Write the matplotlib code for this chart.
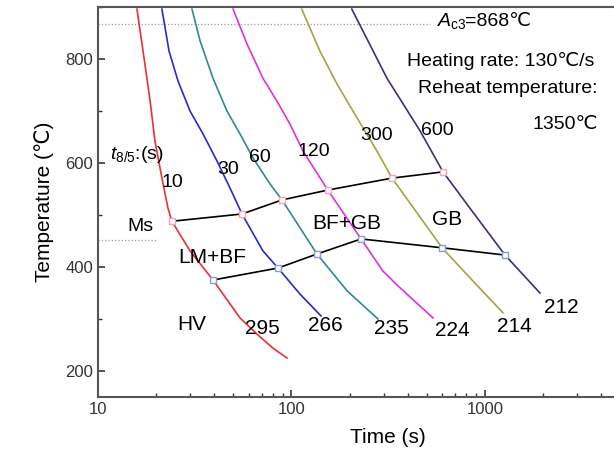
import matplotlib
matplotlib.use('Agg')
import matplotlib.pyplot as plt
from matplotlib.ticker import LogLocator, MultipleLocator, FixedLocator

plt.rcParams['font.family'] = ['Liberation Sans', 'DejaVu Sans']
plt.rcParams['mathtext.fontset'] = 'custom'
plt.rcParams['mathtext.rm'] = 'Liberation Sans'
plt.rcParams['mathtext.it'] = 'Liberation Sans:italic'

# cooling curves: time (s) vs temperature (C), labelled by t8/5
red_t = [15.9, 17.1, 18.6, 19.7, 21.4, 23.0, 24.1, 29.9, 39.3, 54.2, 66.3, 80.2, 94.8]
red_T = [896, 815, 719, 642, 571, 513, 488, 431, 375, 302, 271, 244, 225]
blue_t = [21.4, 23.3, 25.9, 29.9, 34.9, 41.2, 48.1, 55.5, 71.2, 85.2, 110.6, 142]
blue_T = [896, 815, 758, 700, 656, 604, 552, 502, 431, 398, 348, 306]
teal_t = [30.6, 33.7, 39.3, 46.4, 54.2, 63.2, 77.4, 89.3, 135.4, 194, 280]
teal_T = [896, 835, 763, 700, 656, 610, 560, 529, 425, 354, 300]
mag_t = [49.9, 58.9, 71.2, 84.1, 98.2, 114.7, 154, 229, 297, 364, 539]
mag_T = [896, 829, 763, 719, 675, 623, 548, 454, 392, 360, 302]
olive_t = [113, 140.4, 171.9, 218, 276.6, 331, 600, 867, 1239]
olive_T = [896, 815, 752, 687, 623, 571, 437, 373, 312]
navy_t = [205, 311.6, 461.5, 607, 836.6, 1269, 1924]
navy_T = [896, 763, 662, 583, 513, 423, 350]

# transformation start / finish points
start_t = [24.1, 55.5, 89.3, 154, 331, 607]
start_T = [488, 502, 529, 548, 571, 583]
finish_t = [39.3, 85.2, 135.4, 229, 600, 1269]
finish_T = [375, 398, 425, 454, 437, 423]

ac3 = 868
ms = 452

curve_labels = ['10', '30', '60', '120', '300', '600']
hardness = ['295', '266', '235', '224', '214', '212']

fig = plt.figure(figsize=(6.14, 4.67), dpi=100)
ax = fig.add_axes([0.1596, 0.1499, 0.9454, 0.835])

curves = [(red_t, red_T, '#e8303a'), (blue_t, blue_T, '#2a2ac8'),
          (teal_t, teal_T, '#2e8c8c'), (mag_t, mag_T, '#e030e0'),
          (olive_t, olive_T, '#a4a444'), (navy_t, navy_T, '#34347e')]
for t, T, c in curves:
    ax.plot(t, T, color=c, lw=1.2, zorder=3)

ax.plot(start_t, start_T, color='black', lw=1.2, zorder=4)
ax.plot(finish_t, finish_T, color='black', lw=1.2, zorder=4)
ax.plot(start_t, start_T, ls='none', marker='s', ms=5, mfc='white',
        mec='#f0a8b8', mew=1.0, zorder=5)
ax.plot(finish_t, finish_T, ls='none', marker='s', ms=5, mfc='white',
        mec='#8c98e0', mew=1.0, zorder=5)

# reference lines
ax.plot([10, 520], [ac3, ac3], color='#999999', ls=':', lw=0.9)
ax.plot([10, 20.2], [ms, ms], color='#999999', ls=':', lw=0.9)

fs = 14
ax.text(565, 863, r'$A_{\mathrm{c3}}$', fontsize=fs, va='baseline', ha='left')
ax.annotate('=868℃', xy=(565, 863), xytext=(20, 0), textcoords='offset points',
            fontsize=fs, va='baseline', ha='left')
ax.text(395, 796, 'Heating rate: 130℃/s', fontsize=fs, va='center', ha='left')
ax.text(451, 744, 'Reheat temperature:', fontsize=fs, va='center', ha='left')
ax.text(1770, 675, '1350℃', fontsize=fs, va='center', ha='left')
ax.text(11.5, 617, r'$t_{\mathrm{8/5}}$:(s)', fontsize=fs, va='center', ha='left')

label_pos = [(24.1, 562), (47, 588), (68.7, 610), (130.6, 623), (273.5, 652), (565, 662)]
for s, (x, y) in zip(curve_labels, label_pos):
    ax.text(x, y, s, fontsize=fs, ha='center', va='center')

hv_pos = [(70.5, 281), (149, 287), (330, 281), (675, 277), (1413, 285), (2471, 323)]
for s, (x, y) in zip(hardness, hv_pos):
    ax.text(x, y, s, fontsize=fs + 1, ha='center', va='center')

ax.text(16.5, 477, 'Ms', fontsize=fs, ha='center', va='center')
ax.text(38.8, 419, 'LM+BF', fontsize=fs + 1, ha='center', va='center')
ax.text(193.6, 483, 'BF+GB', fontsize=fs + 1, ha='center', va='center')
ax.text(637, 492, 'GB', fontsize=fs + 1, ha='center', va='center')
ax.text(30.6, 290, 'HV', fontsize=fs + 1, ha='center', va='center')

ax.set_xscale('log')
ax.set_xlim(10, 10000)
ax.set_ylim(150, 900)
ax.xaxis.set_major_locator(FixedLocator([10, 100, 1000]))
ax.xaxis.set_major_formatter(plt.FuncFormatter(lambda v, p: f'{v:.0f}'))
ax.xaxis.set_minor_locator(LogLocator(base=10, subs=range(2, 10)))
ax.yaxis.set_major_locator(MultipleLocator(200))
ax.yaxis.set_minor_locator(MultipleLocator(100))
ax.tick_params(which='both', direction='in', labelsize=12, colors='#333333')
ax.tick_params(which='major', length=5, width=1.2)
ax.tick_params(which='minor', length=3, width=1.0)
for sp in ax.spines.values():
    sp.set_color('#555555')
    sp.set_linewidth(1.5)

ax.set_xlabel('Time (s)', fontsize=15, labelpad=8)
ax.set_ylabel('Temperature (℃)', fontsize=15, labelpad=8)

fig.savefig('out.png', dpi=100)
